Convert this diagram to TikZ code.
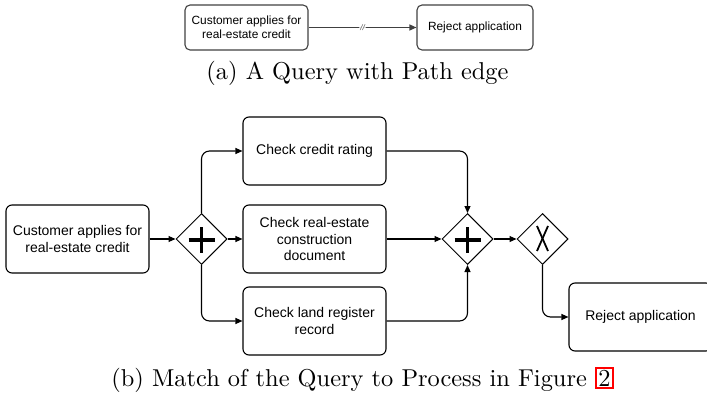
\documentclass[tikz,border=0pt]{standalone}
\usepackage{fontspec}
\setsansfont{Liberation Sans}
\newfontfamily\capfont[Extension=.otf]{lmroman10-regular}
\usetikzlibrary{arrows.meta,shapes.geometric}

\begin{document}
\begin{tikzpicture}[x=1pt,y=-1pt,
  line width=1.1pt,
  box/.style={draw, rounded corners=6pt, align=center, inner sep=0pt,
    minimum width=143pt, minimum height=68pt,
    font=\sffamily\fontsize{14}{16.8}\selectfont},
  smallbox/.style={draw=black!75, rounded corners=5pt, align=center, inner sep=0pt,
    minimum height=45pt, font=\sffamily\fontsize{11.9}{14}\selectfont},
  gate/.style={draw, diamond, aspect=1, inner sep=0pt, minimum size=51pt, line width=1pt},
  flow/.style={-{Triangle[length=7pt,width=6pt]}, rounded corners=8pt},
  caption/.style={font=\capfont\fontsize{24.4}{28}\selectfont}
]
\useasboundingbox (0,0) rectangle (707,393);

% (a) query with a path edge
\node[smallbox, minimum width=123pt] (qa) at (246.5,27.5) {Customer applies for\\real-estate credit};
\node[smallbox, minimum width=116pt] (qb) at (475,27.5) {Reject application};
\draw[flow, draw=black!75] (qa.east) -- node[fill=white, inner sep=0.8pt, text=black!70,
  font=\sffamily\fontsize{8}{8}\selectfont\itshape] {//} (qb.west);
\node[caption] (capa) at (357.5,73) {(a) A Query with Path edge};

% (b) matching process fragment
\node[box] (cust) at (77.5,239) {Customer applies for\\real-estate credit};
\node[gate] (split) at (201.5,239) {};
\node[box] (rating) at (314.5,151) {Check credit rating};
\node[box] (constr) at (314.5,239) {Check real-estate\\construction\\document};
\node[box] (land) at (314.5,321) {Check land register\\record};
\node[gate] (join) at (467.5,239) {};
\node[gate] (xor) at (542.5,239) {};
\node[box] (reject) at (640.5,317) {Reject application};

% gateway markers
\draw[line width=3.6pt] (split.center) ++(-13,1) -- ++(26,0);
\draw[line width=3.6pt] (split.center) ++(0,-12) -- ++(0,26);
\draw[line width=3.6pt] (join.center) ++(-13,1) -- ++(26,0);
\draw[line width=3.6pt] (join.center) ++(0,-12) -- ++(0,26);
\draw[line width=1.8pt] (xor.center) ++(-5.5,-13) -- ++(11,25);
\draw[line width=1.8pt] (xor.center) ++(5.5,-13) -- ++(-11,25);

% sequence flows
\draw[flow] (cust.east) -- (split.west);
\draw[flow] (split.north) |- (rating.west);
\draw[flow] (split.east) -- (constr.west);
\draw[flow] (split.south) |- (land.west);
\draw[flow] (rating.east) -| (join.north);
\draw[flow] (constr.east) -- (join.west);
\draw[flow] (land.east) -| (join.south);
\draw[flow] (join.east) -- (xor.west);
\draw[flow] (xor.south) |- (reject.west);

\setlength\fboxrule{2pt}\setlength\fboxsep{1.2pt}
\node[caption] (capb) at (362.5,379.5) {(b) Match of the Query to Process in Figure \fcolorbox{red}{white}{2}};
\end{tikzpicture}
\end{document}
